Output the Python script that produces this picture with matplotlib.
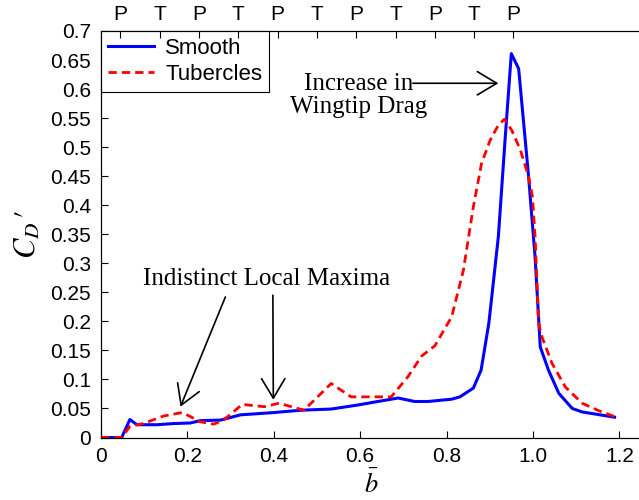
import matplotlib
matplotlib.use('Agg')
import matplotlib.pyplot as plt

plt.rcParams['font.family'] = ['Liberation Sans', 'DejaVu Sans']
plt.rcParams['mathtext.fontset'] = 'stix'

# spanwise drag coefficient, smooth leading edge
smooth_b = [0, 0.048, 0.067, 0.083, 0.130, 0.168, 0.207, 0.230, 0.277, 0.323,
            0.401, 0.463, 0.533, 0.595, 0.641, 0.688, 0.726, 0.757, 0.812, 0.831,
            0.862, 0.880, 0.898, 0.920, 0.936, 0.950, 0.967, 0.990, 1.005, 1.017,
            1.036, 1.060, 1.091, 1.114, 1.189]
smooth_cd = [0, 0, 0.031, 0.022, 0.022, 0.024, 0.025, 0.029, 0.030, 0.039,
             0.043, 0.047, 0.049, 0.056, 0.062, 0.068, 0.062, 0.062, 0.066, 0.070,
             0.085, 0.116, 0.197, 0.346, 0.518, 0.661, 0.635, 0.449, 0.311, 0.156,
             0.116, 0.076, 0.050, 0.044, 0.035]

# spanwise drag coefficient, tubercled leading edge
tub_b = [0, 0.048, 0.067, 0.098, 0.145, 0.188, 0.207, 0.230, 0.261, 0.284,
         0.327, 0.378, 0.412, 0.470, 0.533, 0.579, 0.618, 0.672, 0.711, 0.742,
         0.773, 0.812, 0.839, 0.862, 0.881, 0.901, 0.920, 0.934, 0.951, 0.971,
         0.990, 0.999, 1.005, 1.013, 1.021, 1.044, 1.075, 1.114, 1.153, 1.189]
tub_cd = [0, 0, 0.019, 0.024, 0.037, 0.043, 0.036, 0.027, 0.023, 0.030,
          0.057, 0.053, 0.059, 0.047, 0.093, 0.070, 0.070, 0.070, 0.105, 0.140,
          0.158, 0.208, 0.288, 0.397, 0.472, 0.512, 0.538, 0.548, 0.529, 0.495,
          0.449, 0.414, 0.346, 0.197, 0.173, 0.128, 0.087, 0.059, 0.046, 0.036]

# peak (P) / trough (T) stations along the span
pt_pos = [0.045, 0.136, 0.227, 0.318, 0.409, 0.500, 0.591, 0.682, 0.773, 0.864, 0.955]
pt_labels = ['P', 'T', 'P', 'T', 'P', 'T', 'P', 'T', 'P', 'T', 'P']

x_ticks = [0, 0.2, 0.4, 0.6, 0.8, 1.0, 1.2]
x_ticklabels = ['0', '0.2', '0.4', '0.6', '0.8', '1.0', '1.2']
y_ticks = [0, 0.05, 0.1, 0.15, 0.2, 0.25, 0.3, 0.35, 0.4, 0.45, 0.5, 0.55, 0.6, 0.65, 0.7]
y_ticklabels = ['0', '0.05', '0.1', '0.15', '0.2', '0.25', '0.3', '0.35', '0.4',
                '0.45', '0.5', '0.55', '0.6', '0.65', '0.7']

fig = plt.figure(figsize=(6.39, 5.0), dpi=100)
ax = fig.add_axes([0.158, 0.125, 0.845, 0.813])

ax.plot(smooth_b, smooth_cd, color='blue', lw=2.2, label='Smooth')
ax.plot(tub_b, tub_cd, color='red', lw=2.0, ls=(0, (3, 1.8)), label='Tubercles')

ax.set_xlim(0, 1.25)
ax.set_ylim(0, 0.7)
ax.set_xticks(x_ticks)
ax.set_xticklabels(x_ticklabels)
ax.set_yticks(y_ticks)
ax.set_yticklabels(y_ticklabels)
ax.tick_params(direction='in', length=5, width=0.8, labelsize=15, pad=7)
ax.tick_params(top=False, right=False)
ax.spines['right'].set_visible(False)
for s in ['left', 'bottom', 'top']:
    ax.spines[s].set_linewidth(0.8)

# P/T markers on the upper axis
ax_top = ax.twiny()
ax_top.set_xlim(ax.get_xlim())
ax_top.set_xticks(pt_pos)
ax_top.set_xticklabels(pt_labels)
ax_top.tick_params(direction='in', length=5, width=0.8, labelsize=15, pad=5)
ax_top.spines['right'].set_visible(False)

ax.set_xlabel(r'$\bar{b}$', fontsize=19)
ax.xaxis.set_label_coords(0.5, -0.08)
ax.set_ylabel(r'$C_D\,\prime$', fontsize=22)
ax.yaxis.set_label_coords(-0.108, 0.5)

leg = ax.legend(loc='upper left', fontsize=16, frameon=True, fancybox=False,
                edgecolor='black', framealpha=1, borderaxespad=0,
                handlelength=2.1, borderpad=0.3, labelspacing=0.25,
                handletextpad=0.5)
leg.get_frame().set_linewidth(0.8)

serif = ['Liberation Serif', 'DejaVu Serif']
arrow = dict(arrowstyle='->, head_length=0.5, head_width=0.3', lw=1.2,
             color='black', mutation_scale=28, shrinkA=0, shrinkB=0)

ax.text(0.384, 0.273, 'Indistinct Local Maxima', family=serif, fontsize=18,
        ha='center', va='center')
ax.annotate('', xy=(0.184, 0.053), xytext=(0.288, 0.242), arrowprops=arrow)
ax.annotate('', xy=(0.399, 0.065), xytext=(0.398, 0.245), arrowprops=arrow)

ax.text(0.597, 0.589, 'Increase in\nWingtip Drag', family=serif, fontsize=18,
        ha='center', va='center', linespacing=1.05)
ax.annotate('', xy=(0.920, 0.610), xytext=(0.722, 0.610), arrowprops=arrow)

fig.savefig('out.png', dpi=100)
